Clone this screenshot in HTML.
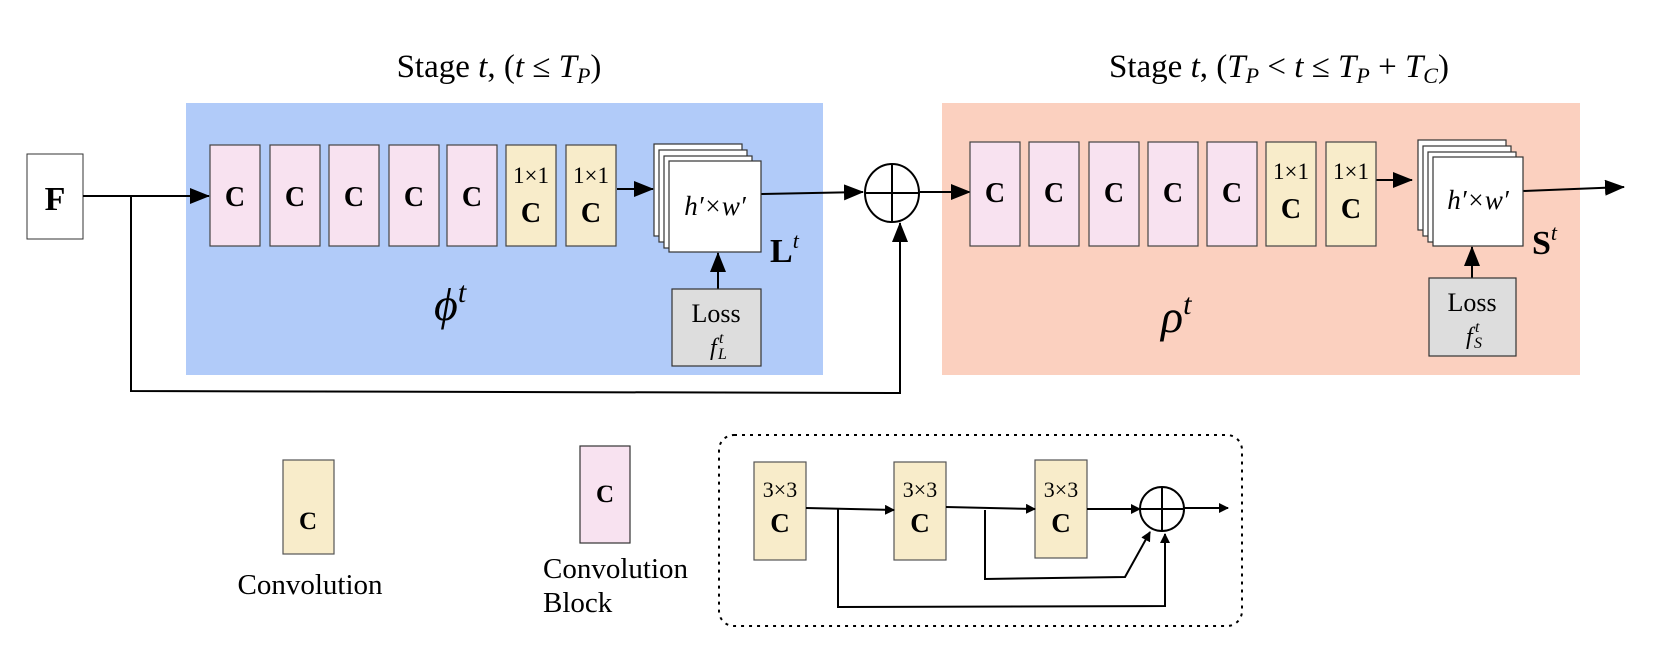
<!DOCTYPE html>
<html><head><meta charset="utf-8"><style>
html,body{margin:0;padding:0;background:#fff;}
svg{display:block;font-family:"Liberation Serif",serif;}
</style></head><body>
<svg width="1656" height="645" viewBox="0 0 1656 645" xmlns="http://www.w3.org/2000/svg">
<defs>
<marker id="a" markerWidth="10" markerHeight="10" refX="9" refY="5" orient="auto" markerUnits="userSpaceOnUse" viewBox="0 0 10 10">
<path d="M0,0 L10,5 L0,10 z" fill="#000"/></marker>
<marker id="b" markerWidth="20" markerHeight="16" refX="19" refY="8" orient="auto" markerUnits="userSpaceOnUse" viewBox="0 0 20 16">
<path d="M0,0 L20,8 L0,16 z" fill="#000"/></marker>
</defs>
<text x="499" y="77" font-size="33" text-anchor="middle">Stage <tspan font-style="italic">t</tspan>, (<tspan font-style="italic">t</tspan> ≤ <tspan font-style="italic">T</tspan><tspan font-size="22" font-style="italic" dy="6">P</tspan><tspan dy="-6">)</tspan></text>
<text x="1279" y="77" font-size="33" text-anchor="middle">Stage <tspan font-style="italic">t</tspan>, (<tspan font-style="italic">T</tspan><tspan font-size="22" font-style="italic" dy="6">P</tspan><tspan dy="-6"> &lt; </tspan><tspan font-style="italic">t</tspan> ≤ <tspan font-style="italic">T</tspan><tspan font-size="22" font-style="italic" dy="6">P</tspan><tspan dy="-6"> + </tspan><tspan font-style="italic">T</tspan><tspan font-size="22" font-style="italic" dy="6">C</tspan><tspan dy="-6">)</tspan></text>
<rect x="186" y="103" width="637" height="272" fill="#b1cbf9"/>
<rect x="942" y="103" width="638" height="272" fill="#fbd0bf"/>
<rect x="27" y="154" width="56" height="85" fill="#fff" stroke="#333" stroke-width="1"/>
<text x="55" y="210" font-size="34" font-weight="bold" text-anchor="middle">F</text>
<g stroke="#000" stroke-width="2" fill="none">
<line x1="83" y1="196" x2="209" y2="196" marker-end="url(#b)"/>
<polyline points="131,196 131,391 900,393 900,223" marker-end="url(#b)"/>
<line x1="617" y1="189" x2="653" y2="189" marker-end="url(#b)"/>
<line x1="718" y1="289" x2="718" y2="253" marker-end="url(#b)"/>
<line x1="761" y1="194" x2="863" y2="192" marker-end="url(#b)"/>
<line x1="920" y1="192" x2="970" y2="192" marker-end="url(#b)"/>
<line x1="1376" y1="180" x2="1412" y2="180" marker-end="url(#b)"/>
<line x1="1472" y1="278" x2="1472" y2="247" marker-end="url(#b)"/>
<line x1="1523" y1="191" x2="1624" y2="187" marker-end="url(#b)"/>
</g>
<ellipse cx="892" cy="193" rx="27" ry="29" fill="#fff" stroke="#000" stroke-width="2"/>
<line x1="865" y1="193" x2="919" y2="193" stroke="#000" stroke-width="2"/>
<line x1="892" y1="164" x2="892" y2="222" stroke="#000" stroke-width="2"/>
<g stroke="#444" stroke-width="1.2">
<rect x="210" y="145" width="50" height="101" fill="#f8e2f0"/>
<rect x="270" y="145" width="50" height="101" fill="#f8e2f0"/>
<rect x="329" y="145" width="50" height="101" fill="#f8e2f0"/>
<rect x="389" y="145" width="50" height="101" fill="#f8e2f0"/>
<rect x="447" y="145" width="50" height="101" fill="#f8e2f0"/>
<rect x="506" y="145" width="50" height="101" fill="#f8ecca"/>
<rect x="566" y="145" width="50" height="101" fill="#f8ecca"/>
<rect x="970" y="142" width="50" height="104" fill="#f8e2f0"/>
<rect x="1029" y="142" width="50" height="104" fill="#f8e2f0"/>
<rect x="1089" y="142" width="50" height="104" fill="#f8e2f0"/>
<rect x="1148" y="142" width="50" height="104" fill="#f8e2f0"/>
<rect x="1207" y="142" width="50" height="104" fill="#f8e2f0"/>
<rect x="1266" y="142" width="50" height="104" fill="#f8ecca"/>
<rect x="1326" y="142" width="50" height="104" fill="#f8ecca"/>
</g>
<g font-size="28" font-weight="bold" text-anchor="middle" fill="#000">
<text x="235" y="206">C</text><text x="295" y="206">C</text><text x="354" y="206">C</text><text x="414" y="206">C</text><text x="472" y="206">C</text>
<text x="531" y="222">C</text><text x="591" y="222">C</text>
<text x="995" y="202">C</text><text x="1054" y="202">C</text><text x="1114" y="202">C</text><text x="1173" y="202">C</text><text x="1232" y="202">C</text>
<text x="1291" y="218">C</text><text x="1351" y="218">C</text>
</g>
<g font-size="23" text-anchor="middle">
<text x="531" y="183">1×1</text><text x="591" y="183">1×1</text>
<text x="1291" y="179">1×1</text><text x="1351" y="179">1×1</text>
</g>
<g fill="#fff" stroke="#333" stroke-width="1.2">
<rect x="654" y="144" width="88" height="92"/><rect x="659" y="150" width="88" height="92"/><rect x="664" y="156" width="88" height="92"/><rect x="669" y="161" width="92" height="91"/>
<rect x="1418" y="140" width="88" height="90"/><rect x="1423" y="146" width="88" height="90"/><rect x="1428" y="152" width="88" height="90"/><rect x="1433" y="157" width="90" height="89"/>
<rect x="672" y="289" width="89" height="77" fill="#ddd"/>
<rect x="1429" y="278" width="87" height="78" fill="#ddd"/>
</g>
<g font-size="27" font-style="italic" text-anchor="middle">
<text x="715" y="215">h′×w′</text><text x="1478" y="209">h′×w′</text>
</g>
<text x="716" y="322" font-size="26" text-anchor="middle">Loss</text>
<text x="710" y="355" font-size="24" font-style="italic">f</text>
<text x="719" y="343" font-size="16" font-style="italic">t</text>
<text x="718" y="359" font-size="16" font-style="italic">L</text>
<text x="1472" y="311" font-size="26" text-anchor="middle">Loss</text>
<text x="1466" y="344" font-size="24" font-style="italic">f</text>
<text x="1475" y="332" font-size="16" font-style="italic">t</text>
<text x="1474" y="348" font-size="16" font-style="italic">S</text>
<text x="770" y="262" font-size="34" font-weight="bold">L<tspan font-size="22" font-style="italic" font-weight="normal" dy="-14">t</tspan></text>
<text x="1532" y="254" font-size="34" font-weight="bold">S<tspan font-size="22" font-style="italic" font-weight="normal" dy="-14">t</tspan></text>
<text x="434" y="320" font-size="46" font-style="italic">ϕ<tspan font-size="30" dy="-18">t</tspan></text>
<text x="1161" y="332" font-size="46" font-style="italic">ρ<tspan font-size="30" dy="-18">t</tspan></text>
<!-- legend -->
<rect x="283" y="460" width="51" height="94" fill="#f8ecca" stroke="#555" stroke-width="1.2"/>
<text x="308" y="529" font-size="25" font-weight="bold" text-anchor="middle">C</text>
<text x="310" y="594" font-size="29" text-anchor="middle">Convolution</text>
<rect x="580" y="446" width="50" height="97" fill="#f8e2f0" stroke="#333" stroke-width="1.2"/>
<text x="605" y="502" font-size="25" font-weight="bold" text-anchor="middle">C</text>
<text x="543" y="578" font-size="29">Convolution</text>
<text x="543" y="612" font-size="29">Block</text>
<rect x="719" y="435" width="523" height="191" rx="15" fill="none" stroke="#000" stroke-width="2" stroke-dasharray="3,5"/>
<g stroke="#555" stroke-width="1.2" fill="#f8ecca">
<rect x="754" y="462" width="52" height="98"/><rect x="894" y="462" width="52" height="98"/><rect x="1035" y="460" width="52" height="98"/>
</g>
<g text-anchor="middle"><g font-size="22">
<text x="780" y="497">3×3</text><text x="920" y="497">3×3</text><text x="1061" y="497">3×3</text></g>
<g font-size="27" font-weight="bold"><text x="780" y="532">C</text><text x="920" y="532">C</text><text x="1061" y="532">C</text></g></g>
<g stroke="#000" stroke-width="2" fill="none">
<line x1="806" y1="508" x2="894" y2="510" marker-end="url(#a)"/>
<line x1="946" y1="507" x2="1035" y2="509" marker-end="url(#a)"/>
<line x1="1087" y1="509" x2="1140" y2="509" marker-end="url(#a)"/>
<line x1="1184" y1="508" x2="1228" y2="508" marker-end="url(#a)"/>
<polyline points="838,509 838,607 1165,606 1165,534" marker-end="url(#a)"/>
<polyline points="985,510 985,579 1125,577 1150,532" marker-end="url(#a)"/>
</g>
<ellipse cx="1162" cy="509" rx="22" ry="22" fill="none" stroke="#000" stroke-width="2"/>
<line x1="1140" y1="509" x2="1184" y2="509" stroke="#000" stroke-width="2"/>
<line x1="1162" y1="487" x2="1162" y2="531" stroke="#000" stroke-width="2"/>
</svg>
</body></html>
